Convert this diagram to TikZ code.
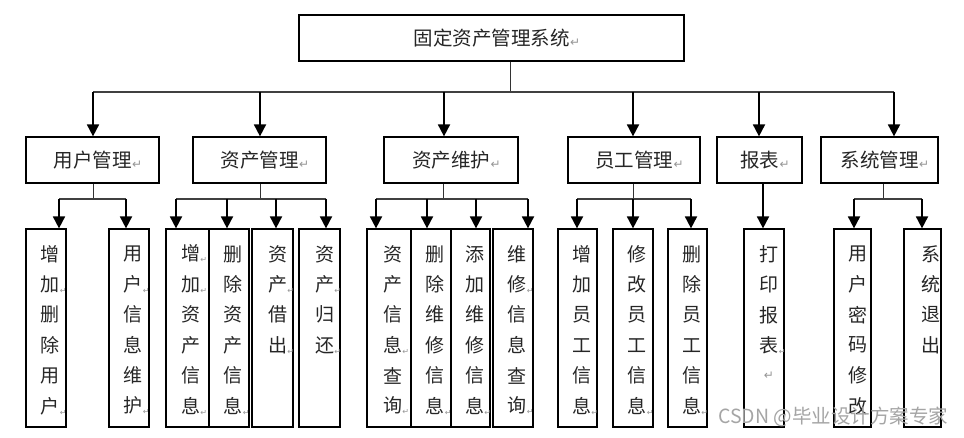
\documentclass[tikz,border=0pt]{standalone}
\usepackage{fontspec}
\newfontfamily\cjk{Noto Sans CJK SC}
\newfontfamily\dejavu{DejaVu Sans}
\usetikzlibrary{arrows.meta}
\definecolor{retgray}{RGB}{150,150,150}
\definecolor{wmgray}{RGB}{165,165,165}
\newcommand\rtv{\rlap{\kern0.3pt\raisebox{-2pt}{\color{retgray}\dejavu\fontsize{8}{8}\selectfont ↵}}}
\newcommand\rth{\rlap{\kern0.5pt\raisebox{-1pt}{\color{retgray}\dejavu\fontsize{12}{12}\selectfont ↵}}}
\newcommand\rtc{\hbox to 0pt{\hss\color{retgray}\dejavu\fontsize{12}{12}\selectfont ↵\hss}}
\newcommand\vcol[5]{%
  \node[box, minimum width=#3pt, minimum height=198pt] (#1) at (#2,328) {};
  \foreach \vc [count=\vi from 0] in {#5} {\node[vch] (#1-\vi) at ({#2+#4},{254+30.4*\vi}) {\vc};}
}
\begin{document}
\begin{tikzpicture}[x=1pt,y=-1pt,
  box/.style={draw=black,line width=1.2pt,inner sep=0pt},
  arr/.style={-{Triangle[width=12pt,length=12pt]},line width=1.8pt,black},
  stem/.style={line width=1pt,black!80},
  bus/.style={line width=1.8pt,black!75},
  lbl/.style={font=\cjk\fontsize{19.5}{19.5}\selectfont,inner sep=0pt,text=black!85},
  vch/.style={font=\cjk\fontsize{19}{19}\selectfont,inner sep=0pt,text=black!85},
]
\fill[white] (0,0) rectangle (964,438);
\useasboundingbox (0,0) rectangle (964,438);

% top
\node[box,minimum width=385pt,minimum height=46pt] (T) at (491.5,38) {};
\node[lbl] (Tt) at (491.5,38) {固定资产管理系统\rth};
\coordinate (tb) at (510,92);
\draw[stem] (T.south -| tb) -- (tb);

% level 2
\node[box,minimum width=133pt,minimum height=46pt] (U1) at (92.5,160) {};
\node[box,minimum width=133pt,minimum height=46pt] (U2) at (259.5,160) {};
\node[box,minimum width=134pt,minimum height=46pt] (U3) at (451,160) {};
\node[box,minimum width=132pt,minimum height=46pt] (U4) at (634,160) {};
\node[box,minimum width=85pt,minimum height=46pt] (U5) at (759.5,160) {};
\node[box,minimum width=117pt,minimum height=46pt] (U6) at (879.5,160) {};
\node[lbl] (U1t) at (92.5,160) {用户管理\rth};
\node[lbl] (U2t) at (259.5,160) {资产管理\rth};
\node[lbl] (U3t) at (451,160) {资产维护\rth};
\node[lbl] (U4t) at (634,160) {员工管理\rth};
\node[lbl] (U5t) at (759.5,160) {报表\rth};
\node[lbl] (U6t) at (879.5,160) {系统管理\rth};

\coordinate (b1) at (93,92);
\coordinate (b2) at (260,92);
\coordinate (b3) at (444,92);
\coordinate (b4) at (633,92);
\coordinate (b5) at (759,92);
\coordinate (b6) at (894,92);
\draw[bus] (b1) -- (b6);
\foreach \k in {1,...,6} {\draw[arr] (b\k) -- (b\k |- U\k.north);}

% level 3 boxes
\vcol{A1}{46}{40}{4}{增,加\rtv,删,除,用,户\rtv}
\vcol{A2}{129}{40}{4}{用,户\rtv,信,息,维,护\rtv}
\vcol{B1}{187.5}{43}{3}{增\rtv,加\rtv,资,产,信,息\rtv}
\vcol{B2}{229}{40}{4}{删,除,资,产,信,息\rtv}
\vcol{B3}{272.5}{41}{5}{资,产\rtv,借,出\rtv}
\vcol{B4}{319.5}{41}{5}{资,产\rtv,归,还\rtv}
\vcol{C1}{389}{44}{3.5}{资,产,信,息\rtv,查,询\rtv}
\vcol{C2}{431}{40}{4}{删,除,维,修,信,息\rtv}
\vcol{C3}{470.5}{39}{4}{添,加,维,修,信,息\rtv}
\vcol{C4}{513}{40}{4}{维,修\rtv,信,息,查,询\rtv}
\vcol{D1}{577.5}{39}{4}{增,加,员,工,信,息\rtv}
\vcol{D2}{633}{40}{4}{修,改,员,工,信,息\rtv}
\vcol{D3}{687.5}{39}{4}{删,除,员,工,信,息\rtv}
\vcol{E1}{764}{40}{5}{打,印,报,表\rtv,\rtc}
\vcol{F1}{852.5}{37}{5}{用,户,密,码,修,改}
\vcol{F2}{922.5}{37}{8}{系,统,退,出}

% connectors level 2 -> 3
\coordinate (s1) at (93,199);
\coordinate (s2) at (260,199);
\coordinate (s3) at (443,199);
\coordinate (s4) at (633,199);
\coordinate (s6) at (883,199);
\foreach \k in {1,2,3,4,6} {\draw[stem] (U\k.south -| s\k) -- (s\k);}

\coordinate (a1) at (59,199);  \coordinate (a2) at (126,199);
\coordinate (p1) at (176,199); \coordinate (p2) at (227,199); \coordinate (p3) at (276,199); \coordinate (p4) at (326,199);
\coordinate (q1) at (376,199); \coordinate (q2) at (427,199); \coordinate (q3) at (476,199); \coordinate (q4) at (528,199);
\coordinate (r1) at (577,199); \coordinate (r2) at (633,199); \coordinate (r3) at (691,199);
\coordinate (e1) at (763,183);
\coordinate (f1) at (854,199); \coordinate (f2) at (922,199);

\draw[bus] (a1) -- (a2);
\draw[bus] (p1) -- (p4);
\draw[bus] (q1) -- (q4);
\draw[bus] (r1) -- (r3);
\draw[bus] (f1) -- (f2);

\draw[arr] (a1) -- (a1 |- A1.north);
\draw[arr] (a2) -- (a2 |- A2.north);
\draw[arr] (p1) -- (p1 |- B1.north);
\draw[arr] (p2) -- (p2 |- B2.north);
\draw[arr] (p3) -- (p3 |- B3.north);
\draw[arr] (p4) -- (p4 |- B4.north);
\draw[arr] (q1) -- (q1 |- C1.north);
\draw[arr] (q2) -- (q2 |- C2.north);
\draw[arr] (q3) -- (q3 |- C3.north);
\draw[arr] (q4) -- (q4 |- C4.north);
\draw[arr] (r1) -- (r1 |- D1.north);
\draw[arr] (r2) -- (r2 |- D2.north);
\draw[arr] (r3) -- (r3 |- D3.north);
\draw[arr] (e1) -- (e1 |- E1.north);
\draw[arr] (f1) -- (f1 |- F1.north);
\draw[arr] (f2) -- (f2 |- F2.north);

% watermark
\node[font=\cjk\fontsize{19.5}{19.5}\selectfont,text=wmgray,anchor=west,inner sep=0pt] (wm) at (718,417) {CSDN @毕业设计方案专家};
\end{tikzpicture}
\end{document}
